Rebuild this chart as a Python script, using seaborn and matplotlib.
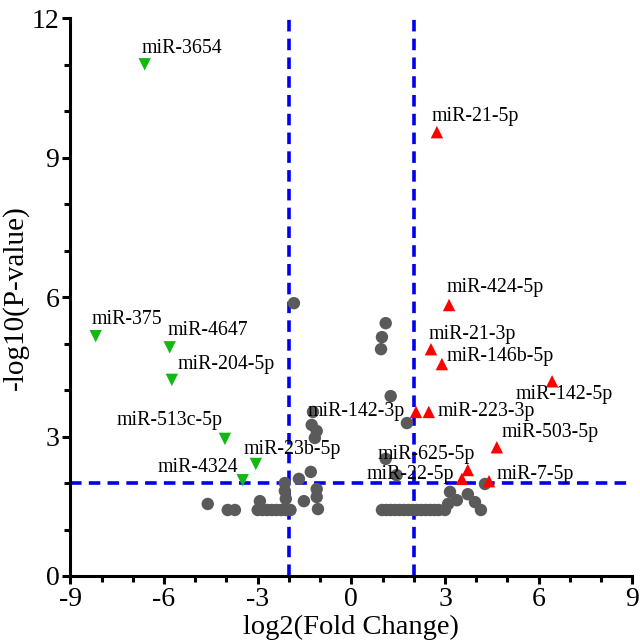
import numpy as np
import pandas as pd
import matplotlib
matplotlib.use('Agg')
from matplotlib import pyplot as plt
from matplotlib.ticker import MultipleLocator
import seaborn as sns

# significant miRNAs
up_names = ['miR-21-5p', 'miR-424-5p', 'miR-21-3p', 'miR-146b-5p', 'miR-142-5p',
            'miR-142-3p', 'miR-223-3p', 'miR-503-5p', 'miR-625-5p', 'miR-22-5p', 'miR-7-5p']
up_x = [2.74, 3.13, 2.55, 2.90, 6.43, 2.07, 2.48, 4.66, 3.73, 3.54, 4.41]
up_y = [9.55, 5.83, 4.88, 4.56, 4.19, 3.53, 3.53, 2.77, 2.28, 2.09, 2.04]

down_names = ['miR-3654', 'miR-375', 'miR-4647', 'miR-204-5p', 'miR-513c-5p',
              'miR-23b-5p', 'miR-4324']
down_x = [-6.62, -8.19, -5.82, -5.75, -4.05, -3.06, -3.48]
down_y = [11.01, 5.16, 4.92, 4.22, 2.95, 2.41, 2.06]

# not significant
ns_x = [-1.84, -1.23, -1.27, -1.11, -1.17, -1.30, -1.68, -2.13, -2.13, -2.10,
        -4.60, -3.96, -3.73, -2.93, -3.00, -2.85, -2.70, -2.55, -2.40, -2.25,
        -2.10, -1.95, -1.52, -1.11, -1.11, -1.07,
        1.10, 0.98, 0.95, 1.26, 1.78, 1.10, 1.45, 3.16, 4.28, 3.73, 3.10,
        3.38, 3.96, 4.15, 3.00, 0.98, 1.12, 1.26, 1.40, 1.54, 1.68, 1.82,
        1.96, 2.10, 2.24, 2.38, 2.52, 2.66, 2.80]
ns_y = [5.87, 3.53, 3.25, 3.12, 2.97, 2.24, 2.09, 2.00, 1.83, 1.66,
        1.55, 1.42, 1.42, 1.61, 1.42, 1.42, 1.42, 1.42, 1.42, 1.42,
        1.42, 1.42, 1.61, 1.87, 1.70, 1.44,
        5.44, 5.14, 4.88, 3.87, 3.29, 2.52, 2.17, 1.81, 1.98, 1.76, 1.55,
        1.63, 1.59, 1.42, 1.42, 1.42, 1.42, 1.42, 1.42, 1.42, 1.42, 1.42,
        1.42, 1.42, 1.42, 1.42, 1.42, 1.42, 1.42]

# label offsets in pixels (dx, dy, horizontal alignment)
label_pos = {
    'miR-3654': (-3, 16, 'left'), 'miR-375': (-4, 17, 'left'),
    'miR-4647': (-2, 17, 'left'), 'miR-204-5p': (6, 15, 'left'),
    'miR-513c-5p': (-2, 18, 'right'), 'miR-23b-5p': (-12, 14, 'left'),
    'miR-4324': (-5, 13, 'right'),
    'miR-21-5p': (-5, 16, 'left'), 'miR-424-5p': (-3, 18, 'left'),
    'miR-21-3p': (-2, 15, 'left'), 'miR-146b-5p': (5, 8, 'left'),
    'miR-142-5p': (-37, -13, 'left'), 'miR-142-3p': (-11, 0, 'right'),
    'miR-223-3p': (9, 0, 'left'), 'miR-503-5p': (5, 15, 'left'),
    'miR-625-5p': (7, 16, 'right'), 'miR-22-5p': (-8, 4, 'right'),
    'miR-7-5p': (8, 7, 'left'),
}

df = pd.concat([
    pd.DataFrame({'x': ns_x, 'y': ns_y, 'group': 'ns'}),
    pd.DataFrame({'x': down_x, 'y': down_y, 'group': 'down'}),
    pd.DataFrame({'x': up_x, 'y': up_y, 'group': 'up'}),
], ignore_index=True)

sns.set_style('ticks')
plt.rcParams['font.family'] = ['Liberation Serif', 'DejaVu Serif']
plt.rcParams['axes.unicode_minus'] = False
plt.rcParams['text.color'] = 'black'
plt.rcParams['axes.labelcolor'] = 'black'
plt.rcParams['xtick.color'] = 'black'
plt.rcParams['ytick.color'] = 'black'
plt.rcParams['axes.edgecolor'] = 'black'

fig = plt.figure(figsize=(6.4, 6.44), dpi=100)
ax = fig.add_axes([0.110, 0.1056, 0.878, 0.866])

blue = '#0000ee'
ax.axvline(-2, color=blue, ls=(0, (3.2, 2.0)), lw=2.6, zorder=1)
ax.axvline(2, color=blue, ls=(0, (3.2, 2.0)), lw=2.6, zorder=1)
ax.axhline(2, color=blue, ls=(0, (3.2, 2.0)), lw=2.6, zorder=1)

sns.scatterplot(data=df, x='x', y='y', hue='group', style='group',
                palette={'ns': '#5a5a5a', 'down': '#13b913', 'up': '#ff0000'},
                markers={'ns': 'o', 'down': 'v', 'up': '^'},
                s=80, linewidth=0, legend=False, ax=ax, zorder=3)

for names, xs, ys in [(down_names, down_x, down_y), (up_names, up_x, up_y)]:
    for n, x, y in zip(names, xs, ys):
        dx, dy, ha = label_pos[n]
        ax.annotate(n, (x, y), xytext=(dx, dy), textcoords='offset pixels',
                    ha=ha, va='center', fontsize=14.3, zorder=4)

ax.set_xlim(-9, 9)
ax.set_ylim(0, 12)
ax.xaxis.set_major_locator(MultipleLocator(3))
ax.xaxis.set_minor_locator(MultipleLocator(1))
ax.yaxis.set_major_locator(MultipleLocator(3))
ax.yaxis.set_minor_locator(MultipleLocator(1))
ax.tick_params(which='major', length=6, width=2.2, labelsize=20, pad=2)
ax.tick_params(which='minor', length=4, width=2.2)
sns.despine(ax=ax)
for sp in ['left', 'bottom']:
    ax.spines[sp].set_linewidth(2.2)
ax.set_xlabel('log2(Fold Change)', fontsize=20.5, labelpad=2)
ax.set_ylabel('-log10(P-value)', fontsize=21, labelpad=2)

fig.savefig('out.png', dpi=100)
